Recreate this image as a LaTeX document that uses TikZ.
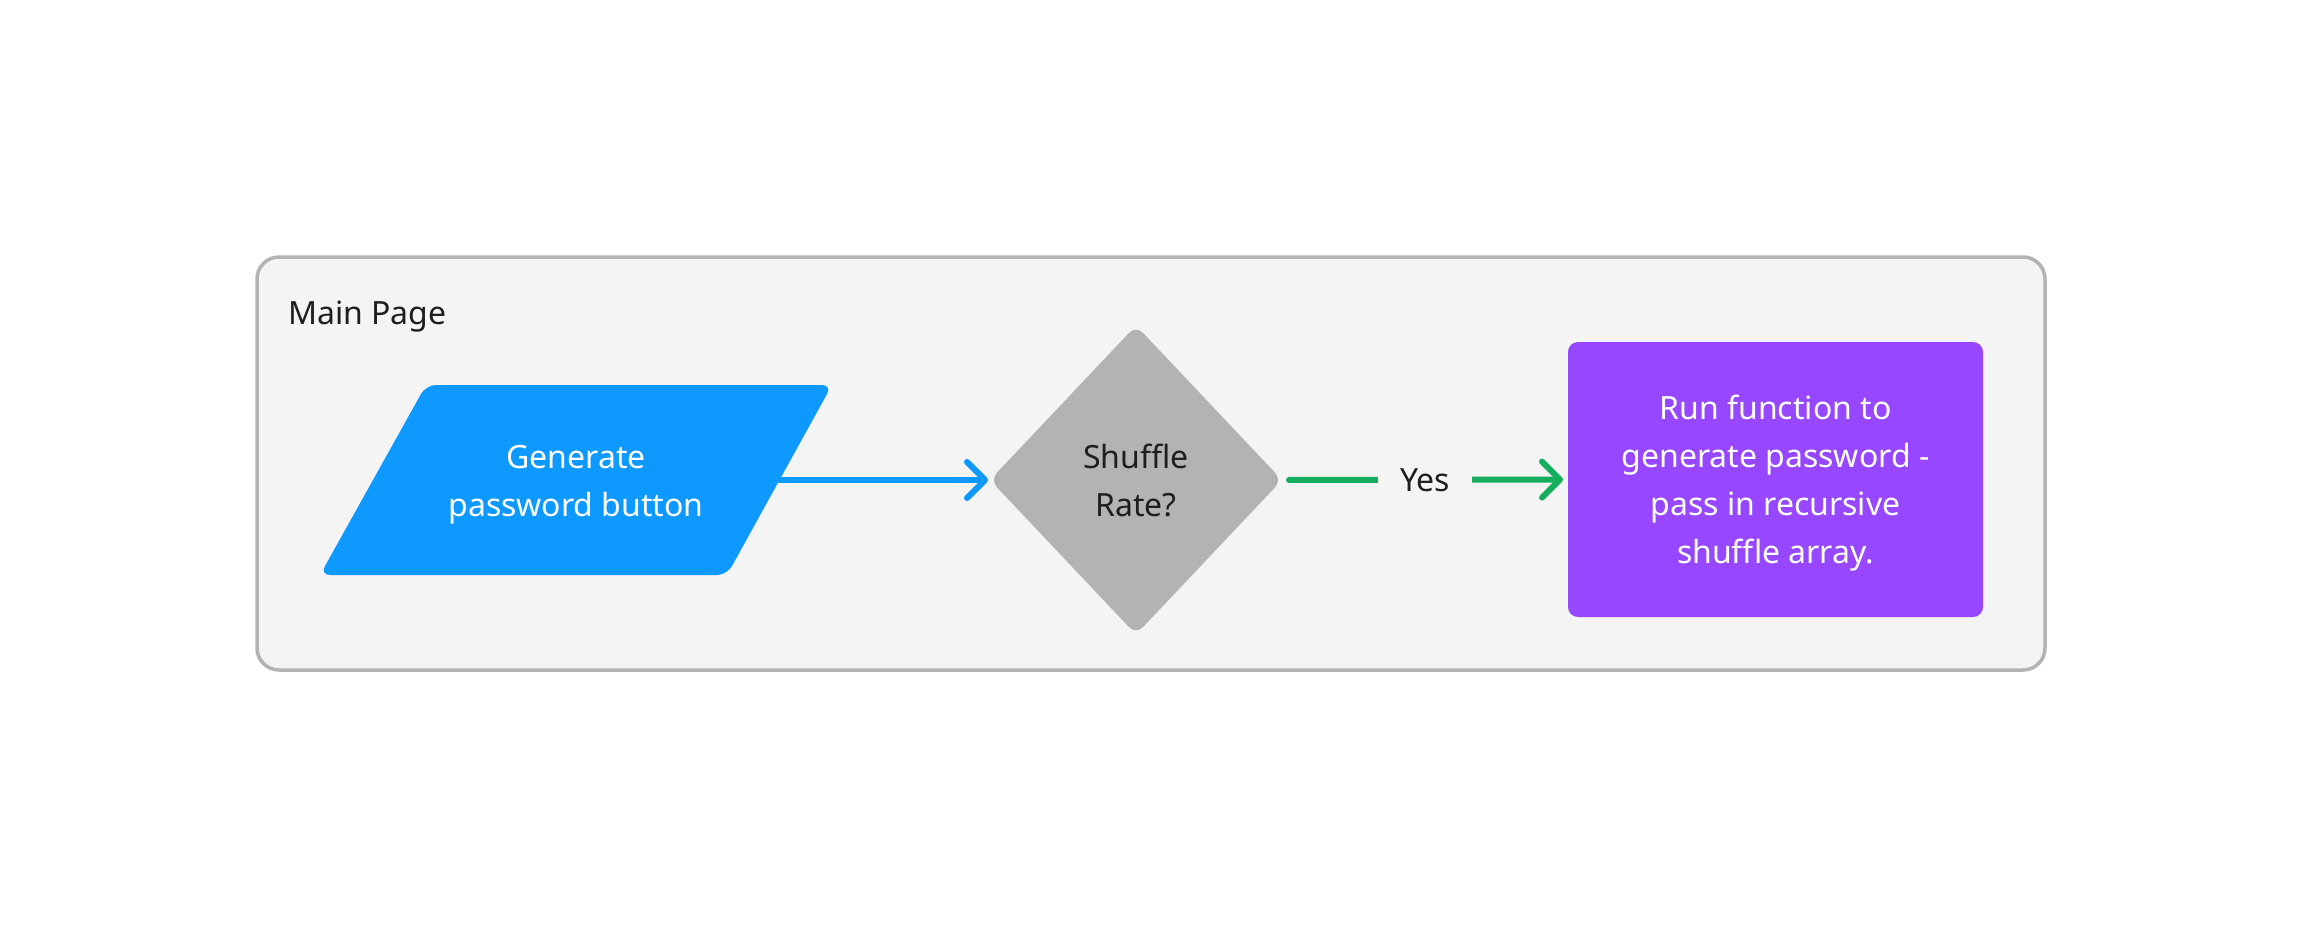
\documentclass[tikz,border=0pt]{standalone}
\usepackage{fontspec}
\setmainfont{Noto Sans}[Ligatures=NoCommon]
\usetikzlibrary{shapes.geometric,arrows.meta}
\definecolor{cblue}{HTML}{0D99FF}
\definecolor{cgray}{HTML}{B3B3B3}
\definecolor{cpurple}{HTML}{9747FF}
\definecolor{cgreen}{HTML}{14AE5C}
\definecolor{cpanel}{HTML}{F4F4F4}
\definecolor{cborder}{HTML}{B3B3B3}
\definecolor{ctext}{HTML}{1E1E1E}
\newcommand\lstrut{\rule[-12pt]{0pt}{48pt}}
\begin{document}
\begin{tikzpicture}[x=1pt,y=-1pt,
  every node/.style={font=\fontsize{32}{48}\selectfont},
  flow/.style={line width=6pt, line cap=round,
    -{Straight Barb[length=18pt,width=36pt,round]}},
  label text/.style={text=ctext, align=center, inner sep=0pt}]
\useasboundingbox (0,0) rectangle (2304,928);
\fill[white] (0,0) rectangle (2304,928);
% container
\draw[draw=cborder, fill=cpanel, line width=3.5pt, rounded corners=22pt]
  (257,257) rectangle (2045,670);
\node[anchor=base west, text=ctext, inner sep=0pt] (title) at (288,324) {Main Page};
% parallelogram (input)
\fill[cblue, rounded corners=10pt] (426,385) -- (832,385) -- (727,575) -- (320,575) -- cycle;
\node[text=white, align=center, inner sep=0pt] (gen) at (576,480)
  {\lstrut Generate\\\lstrut password button};
\coordinate (genR) at (779,480);
% decision
\node[diamond, fill=cgray, minimum width=292pt, minimum height=309pt, inner sep=0pt,
  outer sep=0pt, rounded corners=10pt, label text] (dec) at (1136,480)
  {\lstrut Shuffle\\\lstrut Rate?};
% process
\node[rectangle, fill=cpurple, minimum width=415pt, minimum height=275pt,
  rounded corners=10pt, inner sep=0pt, outer sep=0pt, text=white, align=center] (proc)
  at (1775.5,479.5)
  {\lstrut Run function to\\\lstrut generate password -\\\lstrut pass in recursive\\\lstrut shuffle array.};
% connectors
\draw[flow, draw=cblue, shorten >=2pt] (genR) -- (dec.west);
\draw[flow, draw=cgreen, shorten <=7pt, shorten >=5pt] (dec.east) --
  node[fill=cpanel, text=ctext, inner xsep=22pt, inner ysep=0pt] (yes) {\lstrut Yes} (proc.west);
\end{tikzpicture}
\end{document}
